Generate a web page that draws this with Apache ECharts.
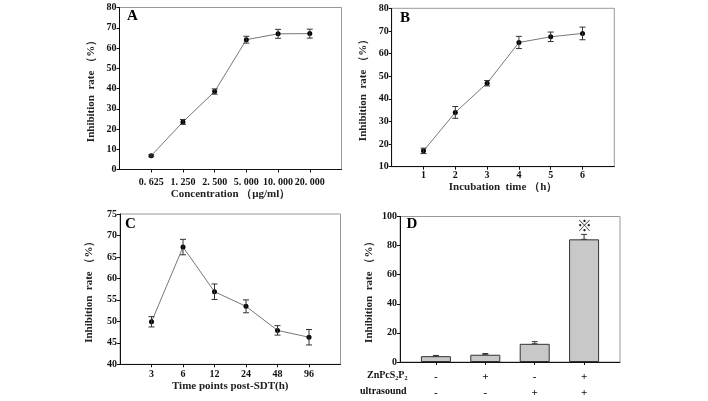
<!DOCTYPE html>
<html><head><meta charset="utf-8">
<script src="https://cdn.jsdelivr.net/npm/echarts@6/dist/echarts.min.js"></script>
<style>html,body{margin:0;padding:0;background:#fff}#c{width:708px;height:401px}</style>
</head><body><div id="c"></div>
<script>
// ---- data ----
var concLabels = ['0. 625','1. 250','2. 500','5. 000','10. 000','20. 000'];
var concRate   = [6.8, 23.5, 38.5, 64.1, 67.0, 67.1];
var concErr    = [0.5, 1.2, 1.3, 1.7, 2.2, 2.2];

var timeLabels = ['1','2','3','4','5','6'];
var timeRate   = [17.0, 34.0, 46.9, 64.9, 67.4, 68.9];
var timeErr    = [1.2, 2.6, 1.2, 2.7, 2.1, 2.8];

var postLabels = ['3','6','12','24','48','96'];
var postRate   = [49.9, 67.3, 56.9, 53.5, 47.9, 46.3];
var postErr    = [1.2, 1.8, 1.8, 1.5, 1.1, 1.8];

var groupRate  = [4.0, 5.0, 12.5, 84.3];
var groupErr   = [0.5, 0.8, 1.5, 3.4];
var zncRow     = ['-','+','-','+'];
var usRow      = ['-','-','+','+'];

// ---- helpers ----
var FONT = 'Liberation Serif';
function pts(arr){ return arr.map(function(v,i){ return [i+1, v]; }); }
function errs(arr, e, upOnly){ return arr.map(function(v,i){ return [i+1, upOnly ? v : v-e[i], v+e[i]]; }); }
function errRender(params, api){
  var x = api.value(0), lo = api.value(1), hi = api.value(2);
  var p1 = api.coord([x, hi]), p2 = api.coord([x, lo]);
  var w = 3, st = {stroke:'#333', lineWidth:1};
  return {type:'group', children:[
    {type:'line', shape:{x1:p1[0],y1:p1[1],x2:p2[0],y2:p2[1]}, style:st},
    {type:'line', shape:{x1:p1[0]-w,y1:p1[1],x2:p1[0]+w,y2:p1[1]}, style:st},
    {type:'line', shape:{x1:p2[0]-w,y1:p2[1],x2:p2[0]+w,y2:p2[1]}, style:st}
  ]};
}
var axisLbl = {fontFamily:FONT, fontWeight:'bold', fontSize:10, color:'#111'};
var nameSt = {fontFamily:FONT, fontWeight:'bold', fontSize:11, color:'#222'};
function xAx(gi, labels, nameTxt, gap, margin){
  return {type:'value', gridIndex:gi, min:0, max:7,
    axisLine:{show:true, onZero:false, lineStyle:{color:'#111'}},
    axisTick:{show:true, length:3, customValues:[1,2,3,4,5,6], lineStyle:{color:'#111'}},
    axisLabel:Object.assign({margin:margin, customValues:[1,2,3,4,5,6],
      formatter:function(v){ var i=Math.round(v)-1; return labels[i]||''; }}, axisLbl),
    splitLine:{show:false},
    name:nameTxt, nameLocation:'middle', nameGap:gap, nameTextStyle:nameSt};
}
function yAx(gi, mn, mx, iv, gap){
  return {type:'value', gridIndex:gi, min:mn, max:mx, interval:iv,
    axisLine:{show:true, lineStyle:{color:'#111'}},
    axisTick:{show:true, length:3, lineStyle:{color:'#111'}},
    axisLabel:Object.assign({margin:3}, axisLbl),
    splitLine:{show:false},
    name:'Inhibition  rate （%）', nameLocation:'middle', nameRotate:90, nameGap:gap, nameTextStyle:nameSt};
}
function lineS(idx, data){
  return {type:'line', xAxisIndex:idx, yAxisIndex:idx, data:pts(data), symbol:'circle', symbolSize:5,
    itemStyle:{color:'#000'}, lineStyle:{color:'#777', width:1}, z:3, silent:true};
}
function errS(idx, data, e, upOnly){
  return {type:'custom', xAxisIndex:idx, yAxisIndex:idx, data:errs(data, e, upOnly), renderItem:errRender,
    encode:{x:0, y:[1,2]}, z:upOnly?1:4, silent:true};
}
var gridBase = {show:true, borderColor:'#999', borderWidth:1, backgroundColor:'transparent'};

var chart = echarts.init(document.getElementById('c'), null, {renderer:'canvas'});
chart.setOption({
  animation:false,
  grid:[
    Object.assign({left:119.5, top:7.5, width:222, height:162}, gridBase),
    Object.assign({left:391.7, top:8.3, width:222.6, height:158.4}, gridBase),
    Object.assign({left:120, top:214, width:220.5, height:150.3}, gridBase),
    Object.assign({left:400, top:216.5, width:220, height:145.8}, gridBase)
  ],
  xAxis:[
    xAx(0, concLabels, 'Concentration （μg/ml）', 19, 8),
    xAx(1, timeLabels, 'Incubation  time （h）', 15, 4),
    xAx(2, postLabels, 'Time points post-SDT(h)', 12, 5),
    {type:'value', gridIndex:3, min:0.273, max:4.727,
      axisLine:{show:true, onZero:false, lineStyle:{color:'#111'}},
      axisTick:{show:true, length:3, customValues:[1,2,3,4], lineStyle:{color:'#111'}},
      axisLabel:Object.assign({margin:7, lineHeight:16, customValues:[1,2,3,4],
        formatter:function(v){ var i=Math.round(v)-1; return (zncRow[i]||'')+'\n'+(usRow[i]||''); }}, axisLbl, {fontSize:11}),
      splitLine:{show:false}}
  ],
  yAxis:[
    yAx(0, 0, 80, 10, 23),
    yAx(1, 10, 80, 10, 23),
    yAx(2, 40, 75, 5, 25),
    yAx(3, 0, 100, 20, 25)
  ],
  series:[
    errS(0, concRate, concErr), lineS(0, concRate),
    errS(1, timeRate, timeErr), lineS(1, timeRate),
    errS(2, postRate, postErr), lineS(2, postRate),
    errS(3, groupRate, groupErr, true),
    {type:'bar', xAxisIndex:3, yAxisIndex:3, data:pts(groupRate), barWidth:30, z:2, silent:true,
      itemStyle:{color:'#c8c8c8', borderColor:'#333', borderWidth:1}}
  ],
  graphic:[
    {type:'text', left:127, top:9, style:{text:'A', font:'bold 15px '+FONT, fill:'#000'}},
    {type:'text', left:400, top:10.5, style:{text:'B', font:'bold 15px '+FONT, fill:'#000'}},
    {type:'text', left:125, top:217, style:{text:'C', font:'bold 15px '+FONT, fill:'#000'}},
    {type:'text', left:406.5, top:217, style:{text:'D', font:'bold 15px '+FONT, fill:'#000'}},
    {type:'text', left:577, top:218, style:{text:'※', font:'15px "Noto Sans CJK SC"', fill:'#222'}},
    {type:'text', left:367, top:370, style:{text:'ZnPcS₂P₂', font:'bold 10px '+FONT, fill:'#111'}},
    {type:'text', left:360, top:386, style:{text:'ultrasound', font:'bold 10px '+FONT, fill:'#111'}}
  ]
});
</script></body></html>
